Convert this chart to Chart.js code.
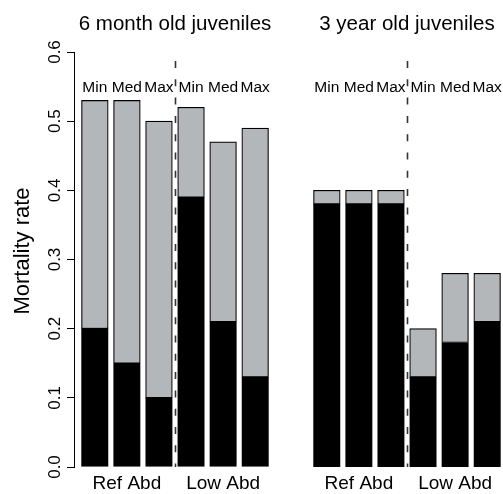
<!DOCTYPE html>
<html>
<head>
<meta charset="utf-8">
<script src="https://cdn.jsdelivr.net/npm/chart.js@4.4.1/dist/chart.umd.min.js"></script>
<style>
  html, body { margin: 0; padding: 0; background: #fff; overflow: hidden; }
  #wrap { position: relative; width: 503px; height: 494px; overflow: hidden; }
  canvas { position: absolute; top: 0; }
  #left { left: 0; }
  #right { left: 270px; }
</style>
</head>
<body>
<div id="wrap">
  <canvas id="left" width="276" height="494"></canvas>
  <canvas id="right" width="238" height="494"></canvas>
</div>
<script>
const groups = ["Ref Abd", "Low Abd"];
const scenarios = ["Min", "Med", "Max", "Min", "Med", "Max"];
const yTicks = [0.0, 0.1, 0.2, 0.3, 0.4, 0.5, 0.6];

// 6 month old juveniles
const sixMonthTotal = [0.53, 0.53, 0.50, 0.52, 0.47, 0.49];
const sixMonthLower = [0.20, 0.15, 0.10, 0.39, 0.21, 0.13];

// 3 year old juveniles
const threeYearTotal = [0.40, 0.40, 0.40, 0.20, 0.28, 0.28];
const threeYearLower = [0.38, 0.38, 0.38, 0.13, 0.18, 0.21];

const FONT = '"Liberation Sans", Arial, Helvetica, sans-serif';
const GREY = "#b4b7ba";

// barplot layout: width 1, space 0.2, so centres sit at 0.7, 1.9, ...
const pos = scenarios.map((_, i) => 0.7 + i * 1.2);
const groupCentres = [pos[1], pos[4]];
const span = pos[pos.length - 1] + 0.5 - (pos[0] - 0.5);
const xMin = pos[0] - 0.5 - 0.04 * span;
const xMax = pos[pos.length - 1] + 0.5 + 0.04 * span;

const panelText = {
  id: "panelText",
  afterDraw(chart, args, opts) {
    const ctx = chart.ctx;
    const x = chart.scales.x;
    const y = chart.scales.y;
    const area = chart.chartArea;
    ctx.save();
    ctx.fillStyle = "#000";

    // panel title
    ctx.font = "20.5px " + FONT;
    ctx.textAlign = "center";
    ctx.textBaseline = "alphabetic";
    ctx.fillText(opts.title, (area.left + area.right) / 2, 30);

    // scenario names above the bars
    ctx.font = "15.5px " + FONT;
    scenarios.forEach((s, i) => {
      ctx.fillText(s, x.getPixelForValue(pos[i]), y.getPixelForValue(0.542));
    });

    // dashed divider between the two groups
    const dx = Math.round(x.getPixelForValue((pos[2] + pos[3]) / 2)) + 0.5;
    ctx.strokeStyle = "#333";
    ctx.lineWidth = 1.6;
    ctx.setLineDash([7, 11.3]);
    ctx.beginPath();
    ctx.moveTo(dx, y.getPixelForValue(0.587));
    ctx.lineTo(dx, y.getPixelForValue(0));
    ctx.stroke();
    ctx.setLineDash([]);

    if (opts.showY) {
      // rotated y tick labels
      ctx.font = "17px " + FONT;
      y.ticks.forEach(t => {
        ctx.save();
        ctx.translate(60, y.getPixelForValue(t.value));
        ctx.rotate(-Math.PI / 2);
        ctx.fillText(t.value.toFixed(1), 0, 0);
        ctx.restore();
      });
      ctx.save();
      ctx.font = "22px " + FONT;
      ctx.translate(29, 251);
      ctx.rotate(-Math.PI / 2);
      ctx.fillText("Mortality rate", 0, 0);
      ctx.restore();
    }
    ctx.restore();
  }
};

function makePanel(id, title, total, lower, showY) {
  const barStyle = {
    borderColor: "#000",
    borderWidth: 1.2,
    borderSkipped: false,
    barThickness: 26.7
  };
  return new Chart(id, {
    type: "bar",
    data: {
      datasets: [
        Object.assign({
          data: lower.map((v, i) => ({ x: pos[i], y: v })),
          backgroundColor: "#000"
        }, barStyle),
        Object.assign({
          data: total.map((v, i) => ({ x: pos[i], y: +(v - lower[i]).toFixed(3) })),
          backgroundColor: GREY
        }, barStyle)
      ]
    },
    options: {
      responsive: false,
      animation: false,
      devicePixelRatio: 1,
      layout: { padding: { top: 52, left: showY ? 0 : 36, right: 0, bottom: 0 } },
      plugins: {
        legend: { display: false },
        tooltip: { enabled: false },
        panelText: { title: title, showY: showY }
      },
      scales: {
        x: {
          type: "linear",
          min: xMin,
          max: xMax,
          offset: false,
          stacked: true,
          afterBuildTicks: s => { s.ticks = groupCentres.map(v => ({ value: v })); },
          afterFit: s => {
            s.height = 27;
            s.paddingLeft = 0;
            s.paddingRight = 0;
          },
          ticks: {
            autoSkip: false,
            maxRotation: 0,
            minRotation: 0,
            padding: 5,
            color: "#000",
            font: { family: FONT, size: 19 },
            callback: (v, i) => groups[i]
          },
          grid: { display: false, drawTicks: false, offset: false },
          border: { display: false }
        },
        y: {
          display: showY,
          min: 0,
          max: 0.6,
          stacked: true,
          afterBuildTicks: s => { s.ticks = yTicks.map(v => ({ value: v })); },
          afterFit: s => { s.width = showY ? 74 : 0; },
          ticks: { display: false },
          grid: { display: true, drawOnChartArea: false, drawTicks: true, tickLength: 7, color: "#000", lineWidth: 1 },
          border: { display: true, color: "#000", width: 1 }
        }
      }
    },
    plugins: [panelText]
  });
}

makePanel("left", "6 month old juveniles", sixMonthTotal, sixMonthLower, true);
makePanel("right", "3 year old juveniles", threeYearTotal, threeYearLower, false);
</script>
</body>
</html>
